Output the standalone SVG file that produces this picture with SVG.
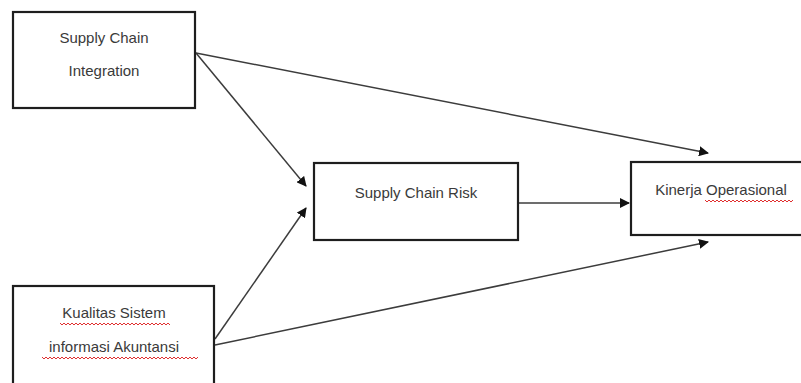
<svg xmlns="http://www.w3.org/2000/svg" width="801" height="383" viewBox="0 0 801 383">
<style>
.box{fill:#fff;stroke:#1e1e1e;stroke-width:2.2}
.lbl{font-family:"Liberation Sans",Arial,sans-serif;font-size:15px;fill:#3a3a3a;text-anchor:middle}
.con{stroke:#3c3c3c;stroke-width:1.5;fill:none;marker-end:url(#ah)}
.wavy{stroke:#e03030;stroke-width:1;fill:none}
</style>
<defs>
<marker id="ah" markerWidth="10" markerHeight="10" refX="9" refY="5" orient="auto" markerUnits="userSpaceOnUse">
<path d="M0,0 L10,5 L0,10 z" fill="#111"/>
</marker>
</defs>
<rect width="801" height="383" fill="#fff"/>
<g id="connectors">
<line class="con" x1="196" y1="53" x2="306" y2="186"/>
<line class="con" x1="196" y1="53" x2="708" y2="153"/>
<line class="con" x1="215" y1="339" x2="306" y2="208"/>
<line class="con" x1="215" y1="345" x2="708" y2="242"/>
<line class="con" x1="518" y1="203" x2="629" y2="203"/>
</g>
<g id="node-sci">
<rect class="box" x="13" y="12" width="182" height="96"/>
<text class="lbl" x="104" y="43">Supply Chain</text>
<text class="lbl" x="104" y="76">Integration</text>
</g>
<g id="node-ksia">
<rect class="box" x="13" y="286" width="201" height="110"/>
<text class="lbl" x="114" y="318">Kualitas Sistem</text>
<text class="lbl" x="114" y="352">informasi Akuntansi</text>
<path class="wavy" d="M60,323 l2,2 l2,-2 l2,2 l2,-2 l2,2 l2,-2 l2,2 l2,-2 l2,2 l2,-2 l2,2 l2,-2 l2,2 l2,-2 l2,2 l2,-2 l2,2 l2,-2 l2,2 l2,-2 l2,2 l2,-2 l2,2 l2,-2 l2,2 l2,-2 l2,2 l2,-2 l2,2 l2,-2 l2,2 l2,-2 l2,2 l2,-2 l2,2 l2,-2 l2,2 l2,-2 l2,2 l2,-2 l2,2 l2,-2 l2,2 l2,-2 l2,2 l2,-2 l2,2 l2,-2 l2,2 l2,-2 l2,2 l2,-2 l2,2 l2,-2 l2,2"/>
<path class="wavy" d="M42,357 l2,2 l2,-2 l2,2 l2,-2 l2,2 l2,-2 l2,2 l2,-2 l2,2 l2,-2 l2,2 l2,-2 l2,2 l2,-2 l2,2 l2,-2 l2,2 l2,-2 l2,2 l2,-2 l2,2 l2,-2 l2,2 l2,-2 l2,2 l2,-2 l2,2 l2,-2 l2,2 l2,-2 l2,2 l2,-2 l2,2 l2,-2 l2,2 l2,-2 l2,2 l2,-2 l2,2 l2,-2 l2,2 l2,-2 l2,2 l2,-2 l2,2 l2,-2 l2,2 l2,-2 l2,2 l2,-2 l2,2 l2,-2 l2,2 l2,-2 l2,2 l2,-2 l2,2 l2,-2 l2,2 l2,-2 l2,2 l2,-2 l2,2 l2,-2 l2,2 l2,-2 l2,2 l2,-2 l2,2 l2,-2 l2,2 l2,-2 l2,2 l2,-2 l2,2 l2,-2 l2,2 l2,-2"/>
</g>
<g id="node-scr">
<rect class="box" x="314" y="163" width="204" height="77"/>
<text class="lbl" x="416" y="198">Supply Chain Risk</text>
</g>
<g id="node-ko">
<rect class="box" x="631" y="162" width="185" height="73"/>
<text class="lbl" x="721" y="195">Kinerja Operasional</text>
<path class="wavy" d="M705,200 l2,2 l2,-2 l2,2 l2,-2 l2,2 l2,-2 l2,2 l2,-2 l2,2 l2,-2 l2,2 l2,-2 l2,2 l2,-2 l2,2 l2,-2 l2,2 l2,-2 l2,2 l2,-2 l2,2 l2,-2 l2,2 l2,-2 l2,2 l2,-2 l2,2 l2,-2 l2,2 l2,-2 l2,2 l2,-2 l2,2 l2,-2 l2,2 l2,-2 l2,2 l2,-2 l2,2 l2,-2 l2,2 l2,-2 l2,2 l2,-2"/>
</g>
</svg>
